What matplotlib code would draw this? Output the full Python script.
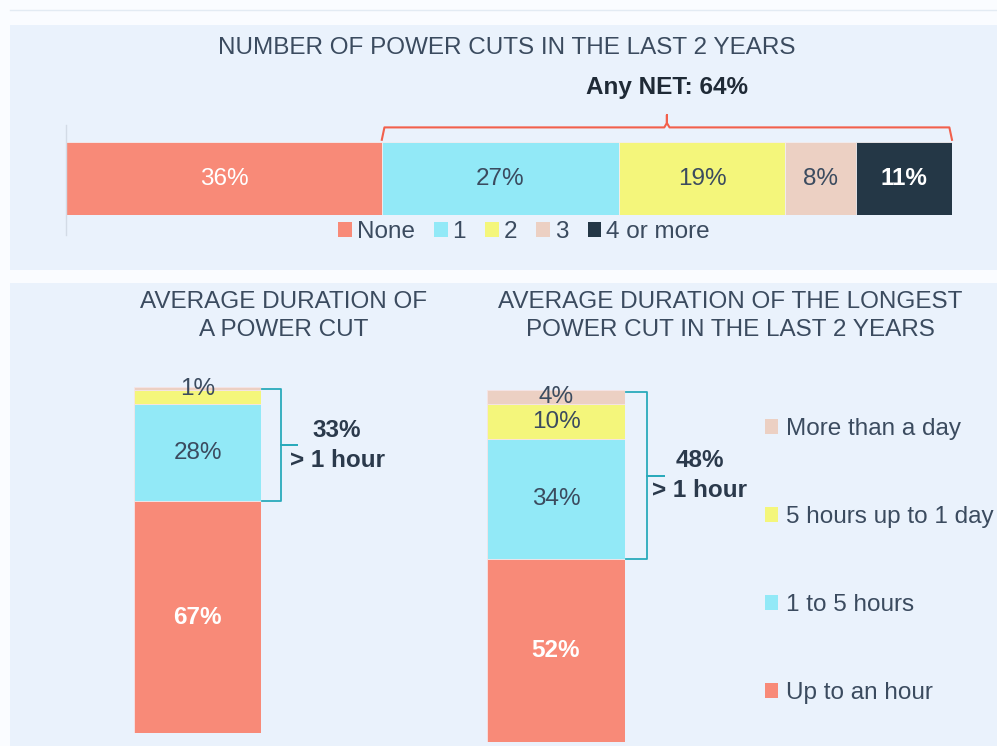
import matplotlib.pyplot as plt
import matplotlib.transforms as mtransforms
from matplotlib.patches import Rectangle, Patch
import numpy as np

plt.rcParams['font.family'] = ['Liberation Sans', 'DejaVu Sans']

# data
cut_labels = ['None', '1', '2', '3', '4 or more']
cut_values = [36, 27, 19, 8, 11]
dur_labels = ['Up to an hour', '1 to 5 hours', '5 hours up to 1 day', 'More than a day']
avg_values = [67, 28, 4, 1]
avg_labels = ['67%', '28%', '', '1%']
long_values = [52, 34, 10, 4]
long_labels = ['52%', '34%', '10%', '4%']

cut_colors = ['#f88a78', '#92e9f7', '#f4f67b', '#ecd0c3', '#243746']
dur_colors = ['#f88a78', '#92e9f7', '#f4f67b', '#ecd0c3']
txt = '#3b4b5f'
FS = 17.5

W, H = 997, 746
fig = plt.figure(figsize=(W / 100, H / 100), dpi=100)
fig.patch.set_facecolor('#fafcff')

def box(x0, y0, x1, y1):  # pixel box -> figure fraction rect
    return [x0 / W, 1 - y1 / H, (x1 - x0) / W, (y1 - y0) / H]

# panel backgrounds
for (x0, y0, x1, y1) in [(10, 25, 997, 270), (10, 283, 997, 746)]:
    r = box(x0, y0, x1, y1)
    fig.patches.append(Rectangle((r[0], r[1]), r[2], r[3], transform=fig.transFigure,
                                 facecolor='#eaf2fc', edgecolor='none', zorder=-5))
fig.add_artist(plt.Line2D([10 / W, 1], [1 - 10 / H] * 2, color='#e3ebf3', lw=1, zorder=-5))

# ---- top: number of power cuts ----
ax = fig.add_axes(box(66, 142, 952, 215))
ax.set_facecolor('none')
left = 0
for v, c in zip(cut_values, cut_colors):
    ax.barh(0, v, left=left, height=1, color=c, edgecolor='#f3eef0', lw=0.6)
    tc = 'white' if c in ('#f88a78', '#243746') else txt
    fw = 'bold' if c == '#243746' else 'normal'
    ax.text(left + v / 2, 0, f'{v}%', ha='center', va='center', color=tc,
            fontsize=FS, fontweight=fw)
    left += v
ax.set_xlim(0, sum(cut_values))
ax.set_ylim(-0.5, 0.5)
ax.axis('off')
ax.plot([0, 0], [-0.27, 1.23], transform=ax.transAxes, color='#d3dbe6', lw=1, clip_on=False)

trans = mtransforms.blended_transform_factory(ax.transData, ax.transAxes)
x0 = cut_values[0]
x1 = sum(cut_values)
xm = (x0 + x1) / 2
ax.plot([x0, x0 + 0.3, xm - 0.3, xm, xm, xm, xm + 0.3, x1 - 0.3, x1],
        [1.03, 1.2, 1.2, 1.26, 1.37, 1.26, 1.2, 1.2, 1.03],
        transform=trans, color='#f2604c', lw=1.5, clip_on=False)
ax.text(xm, 1.74, 'Any NET: 64%', transform=trans, ha='center', va='center',
        fontsize=FS, fontweight='bold', color='#1f2a36')
fig.text(507 / W, 1 - 48 / H, 'NUMBER OF POWER CUTS IN THE LAST 2 YEARS', ha='center',
         va='center', fontsize=FS, color=txt)

handles = [Patch(facecolor=c, edgecolor='none') for c in cut_colors]
fig.legend(handles, cut_labels, loc='center', bbox_to_anchor=(524 / W, 1 - 232 / H),
           ncol=5, frameon=False, fontsize=FS, handlelength=0.55, handleheight=0.55,
           handletextpad=0.2, columnspacing=0.8, labelcolor=txt)

# ---- bottom: durations ----
def stacked(rect, values, labels, tx):
    a = fig.add_axes(rect)
    a.set_facecolor('none')
    bottom = 0
    for i, (v, c, lab) in enumerate(zip(values, dur_colors, labels)):
        a.bar(0, v, bottom=bottom, width=1, color=c, edgecolor='#f6e4e6', lw=0.6)
        if lab:
            a.text(0, bottom + v / 2, lab, ha='center', va='center', fontsize=FS,
                   color='white' if i == 0 else txt, fontweight='bold' if i == 0 else 'normal')
        bottom += v
    a.set_xlim(-0.5, 0.5)
    a.set_ylim(0, 100)
    a.axis('off')
    t = mtransforms.blended_transform_factory(a.transAxes, a.transData)
    y0 = values[0]
    y1 = sum(values) - 0.7
    ym = (y0 + y1) / 2
    a.plot([1.01, 1.16, 1.16, 1.28, 1.16, 1.16, 1.01], [y1, y1, ym, ym, ym, y0, y0],
           transform=t, color='#2aaabb', lw=1.3, clip_on=False)
    a.text(tx, ym, f'{sum(values[1:])}%\n> 1 hour', transform=t, ha='center', va='center',
           fontsize=FS, fontweight='bold', color='#2b3a4c', linespacing=1.4)
    return a

stacked(box(134, 387, 261, 733), avg_values, avg_labels, 1.6)
stacked(box(487, 390, 625, 742), long_values, long_labels, 1.54)

fig.text(284 / W, 1 - 316 / H, 'AVERAGE DURATION OF\nA POWER CUT', ha='center', va='center',
         fontsize=FS, color=txt, linespacing=1.4)
fig.text(730 / W, 1 - 316 / H, 'AVERAGE DURATION OF THE LONGEST\nPOWER CUT IN THE LAST 2 YEARS',
         ha='center', va='center', fontsize=FS, color=txt, linespacing=1.4)

h2 = [Patch(facecolor=c, edgecolor='none') for c in dur_colors][::-1]
fig.legend(h2, dur_labels[::-1], loc='upper left', bbox_to_anchor=(743 / W, 1 - 396 / H),
           frameon=False, fontsize=FS, handlelength=0.55, handleheight=0.55,
           handletextpad=0.3, labelspacing=2.72, labelcolor=txt)

fig.savefig('out.png', dpi=100, facecolor=fig.get_facecolor())
